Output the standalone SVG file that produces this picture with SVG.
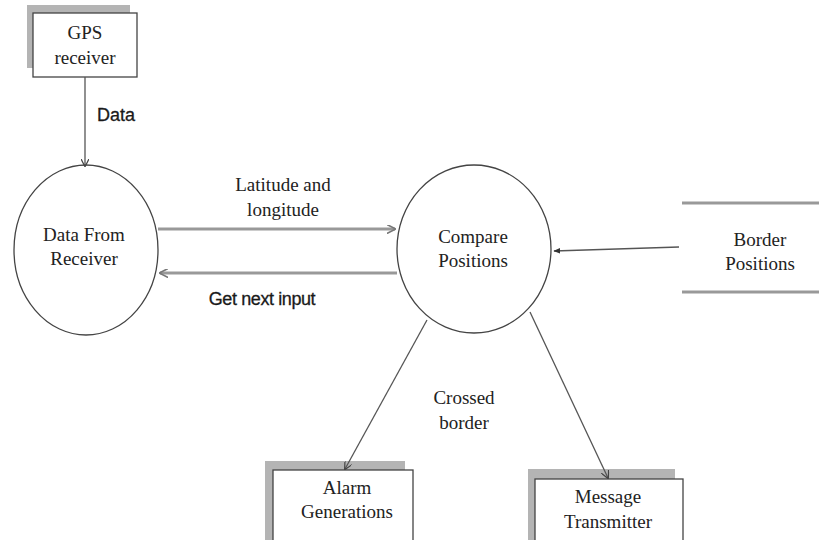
<svg xmlns="http://www.w3.org/2000/svg" width="819" height="540" viewBox="0 0 819 540">
<style>
.shadow{fill:#b4b4b4;stroke:none}
.box{fill:#fff;stroke:#444;stroke-width:1.3}
.circ{fill:#fff;stroke:#444;stroke-width:1.3}
.t{font-family:"Liberation Serif",serif;font-size:19px;fill:#222;text-anchor:middle}
.s{font-family:"Liberation Sans",Arial,sans-serif;font-size:18px;fill:#1a1a1a;text-anchor:middle;stroke:#1a1a1a;stroke-width:0.3}
.c{fill:none;stroke:#555;stroke-width:1.3}
.c2{fill:none;stroke:#999;stroke-width:3}
.store{stroke:#999;stroke-width:3}
</style>
<defs>
<marker id="ah" viewBox="0 0 10 10" refX="9" refY="5" markerWidth="8" markerHeight="8" orient="auto" markerUnits="userSpaceOnUse">
<path d="M0,0 L10,5 L0,10" fill="none" stroke="#444" stroke-width="1.5"/>
</marker>
<marker id="ah2" viewBox="0 0 10 10" refX="9" refY="5" markerWidth="9" markerHeight="9" orient="auto" markerUnits="userSpaceOnUse">
<path d="M0,0 L10,5 L0,10" fill="none" stroke="#777" stroke-width="1.8"/>
</marker>
<marker id="ah3" viewBox="0 0 10 10" refX="9" refY="5" markerWidth="7" markerHeight="7" orient="auto" markerUnits="userSpaceOnUse">
<path d="M0,1 L10,5 L0,9 z" fill="#333"/>
</marker>
</defs>
<g id="gps">
<rect class="shadow" x="27" y="5" width="103" height="63"/>
<rect class="box" x="33" y="13" width="104" height="64"/>
<text class="t" x="85" y="39">GPS</text>
<text class="t" x="85" y="64">receiver</text>
</g>
<g id="data-from-receiver">
<ellipse class="circ" cx="86" cy="250" rx="72" ry="85"/>
<text class="t" x="84" y="241">Data From</text>
<text class="t" x="84" y="265">Receiver</text>
</g>
<g id="compare-positions">
<ellipse class="circ" cx="474" cy="249" rx="77" ry="84"/>
<text class="t" x="473" y="243">Compare</text>
<text class="t" x="473" y="267">Positions</text>
</g>
<g id="border-positions">
<line class="store" x1="682" y1="203" x2="819" y2="203"/>
<line class="store" x1="682" y1="292" x2="819" y2="292"/>
<text class="t" x="760" y="246">Border</text>
<text class="t" x="760" y="270">Positions</text>
</g>
<g id="alarm-generations">
<rect class="shadow" x="265" y="461" width="140" height="80"/>
<rect class="box" x="273" y="470" width="140" height="75"/>
<text class="t" x="347" y="494">Alarm</text>
<text class="t" x="347" y="518">Generations</text>
</g>
<g id="message-transmitter">
<rect class="shadow" x="528" y="469" width="147" height="72"/>
<rect class="box" x="535" y="479" width="148" height="66"/>
<text class="t" x="608" y="503">Message</text>
<text class="t" x="608" y="528">Transmitter</text>
</g>
<g id="connectors">
<line class="c" x1="85" y1="77" x2="85" y2="166" marker-end="url(#ah)"/>
<line class="c2" x1="158" y1="229" x2="395" y2="229" marker-end="url(#ah2)"/>
<line class="c2" x1="397" y1="273" x2="160" y2="273" marker-end="url(#ah2)"/>
<line class="c" x1="679" y1="247" x2="554" y2="251" marker-end="url(#ah3)"/>
<line class="c" x1="427" y1="320" x2="345" y2="469" marker-end="url(#ah)"/>
<line class="c" x1="530" y1="312" x2="608" y2="478" marker-end="url(#ah)"/>
<text class="s" x="116" y="121">Data</text>
<text class="t" x="283" y="191">Latitude and</text>
<text class="t" x="283" y="216">longitude</text>
<text class="s" x="262" y="305" letter-spacing="-0.4">Get next input</text>
<text class="t" x="464" y="404">Crossed</text>
<text class="t" x="464" y="429">border</text>
</g>
</svg>
